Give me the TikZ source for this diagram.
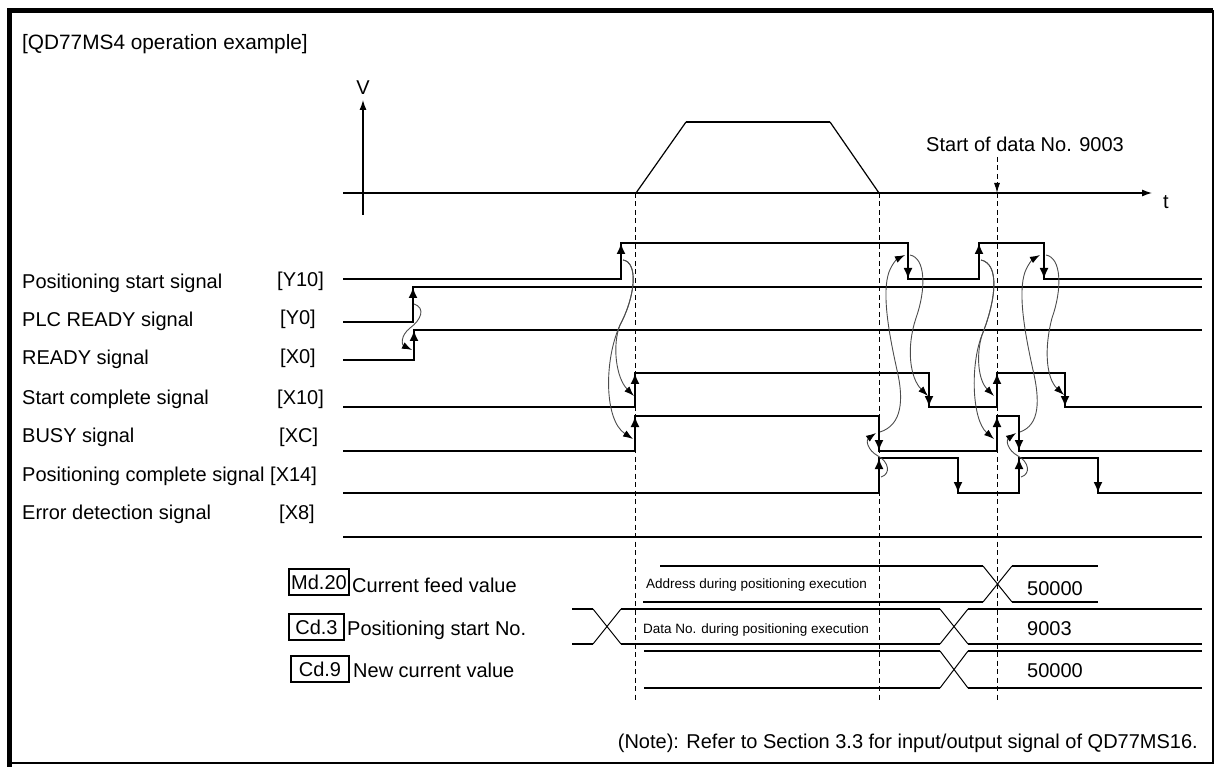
\documentclass[tikz,border=0pt]{standalone}
\usepackage{fontspec}
\setmainfont{Liberation Sans}
\usetikzlibrary{arrows.meta}
\begin{document}
\begin{tikzpicture}[x=1pt,y=-1pt,
  sig/.style={line width=2.8pt, line join=miter},
  edgearr/.style={line width=2.8pt, -{Latex[length=11pt,width=9pt]}},
  cause/.style={line width=0.9pt, black!70, -{Latex[length=10pt,width=7pt,color=black]}},
  guide/.style={line width=1pt, dash pattern=on 5pt off 3.5pt},
  axis/.style={line width=1.2pt, -{Latex[length=10pt,width=7pt]}},
  bus/.style={line width=2.3pt},
  busx/.style={line width=1pt},
  lbl/.style={font=\fontsize{20}{24}\selectfont, inner sep=0pt, anchor=base west},
  small/.style={font=\fontsize{13.5}{16}\selectfont, inner sep=0pt, anchor=west},
  regbox/.style={draw, line width=1.3pt, font=\fontsize{20}{24}\selectfont, inner sep=0pt, minimum height=26pt}
]
\useasboundingbox (0,0) rectangle (1216,767);
% frame
\draw[line width=4.5pt] (9.5,767) -- (9.5,10.5) -- (1213,10.5);
\draw[line width=2pt] (1213,10.5) -- (1213,763) -- (9.5,763);

\node[lbl, font=\fontsize{20.8}{25}\selectfont] (title) at (22,50) {[QD77MS4 operation example]};

% speed axes
\draw[axis] (363,215) -- (363,100);
\node[font=\fontsize{20}{24}\selectfont, inner sep=0pt] (Vlab) at (363,88) {V};
\draw[axis] (343,193) -- (1152,193);
\node[font=\fontsize{20}{24}\selectfont, inner sep=0pt] (tlab) at (1166,202) {t};
\draw[line width=1.2pt] (636,193) -- (686,122);
\draw[line width=2.4pt] (686,122) -- (830,122);
\draw[line width=1.2pt] (830,122) -- (879,193);

% start marker
\node[font=\fontsize{20}{24}\selectfont, inner sep=0pt] (startlab) at (1025,144) {Start of data No. 9003};
\draw[guide,-{Latex[length=10pt,width=6pt]}] (997,157) -- (997,193);

% guide lines
\draw[guide] (635,193) -- (635,700);
\draw[guide] (879,193) -- (879,700);
\draw[guide] (997,193) -- (997,700);

% signal labels
\node[lbl] (lY10) at (22,289) {Positioning start signal};
\node[lbl] (lY0)  at (22,327) {PLC READY signal};
\node[lbl] (lX0)  at (22,365) {READY signal};
\node[lbl] (lX10) at (22,404) {Start complete signal};
\node[lbl] (lXC)  at (22,442) {BUSY signal};
\node[lbl] (lX14) at (22,481) {Positioning complete signal};
\node[lbl] (lX8)  at (22,519) {Error detection signal};
\node[lbl] (bY10) at (277,287) {[Y10]};
\node[lbl] (bY0)  at (280,325) {[Y0]};
\node[lbl] (bX0)  at (280,363) {[X0]};
\node[lbl] (bX10) at (277,404) {[X10]};
\node[lbl] (bXC)  at (279,442) {[XC]};
\node[lbl] (bX14) at (270,481) {[X14]};
\node[lbl] (bX8)  at (279,519) {[X8]};

% waveforms
\draw[sig] (343,279) -- (621,279) -- (621,243) -- (908,243) -- (908,279) -- (979,279) -- (979,243) -- (1044,243) -- (1044,279) -- (1202,279);
\draw[sig] (343,322) -- (413,322) -- (413,287) -- (1202,287);
\draw[sig] (343,360) -- (414,360) -- (414,330) -- (1202,330);
\draw[sig] (343,407) -- (635,407) -- (635,373) -- (929,373) -- (929,407) -- (997,407) -- (997,373) -- (1065,373) -- (1065,407) -- (1202,407);
\draw[sig] (343,451) -- (635,451) -- (635,416) -- (879,416) -- (879,451) -- (997,451) -- (997,416) -- (1019,416) -- (1019,451) -- (1202,451);
\draw[sig] (343,493) -- (879,493) -- (879,458) -- (958,458) -- (958,493) -- (1019,493) -- (1019,458) -- (1098,458) -- (1098,493) -- (1202,493);
\draw[sig] (343,537) -- (1202,537);

% edge arrows (rising)
\draw[edgearr] (413,322) -- (413,287);
\draw[edgearr] (414,360) -- (414,330);
\draw[edgearr] (621,279) -- (621,243);
\draw[edgearr] (635,407) -- (635,373);
\draw[edgearr] (635,451) -- (635,416);
\draw[edgearr] (879,493) -- (879,458);
\draw[edgearr] (979,279) -- (979,243);
\draw[edgearr] (997,407) -- (997,373);
\draw[edgearr] (997,451) -- (997,416);
\draw[edgearr] (1019,493) -- (1019,458);
% edge arrows (falling)
\draw[edgearr] (908,243) -- (908,279);
\draw[edgearr] (929,373) -- (929,407);
\draw[edgearr] (879,416) -- (879,451);
\draw[edgearr] (958,458) -- (958,493);
\draw[edgearr] (1044,243) -- (1044,279);
\draw[edgearr] (1065,373) -- (1065,407);
\draw[edgearr] (1019,416) -- (1019,451);
\draw[edgearr] (1098,458) -- (1098,493);

% cause-effect curves
\draw[cause] (414,304) .. controls (426,308) and (421,320) .. (410,328) .. controls (400,336) and (402,345) .. (412,350);
\draw[cause] (623,260) .. controls (638,262) and (636,295) .. (620,325) .. controls (612,345) and (616,378) .. (634,396);
\draw[cause] (623,260) .. controls (638,262) and (636,295) .. (620,325) .. controls (604,360) and (604,420) .. (633,439);
\draw[cause] (881,477) .. controls (891,474) and (889,462) .. (878,456) .. controls (867,450) and (866,440) .. (876,433);
\draw[cause] (880,432) .. controls (902,425) and (904,400) .. (897,370) .. controls (888,330) and (882,292) .. (889,272) .. controls (892,264) and (897,259) .. (905,255);
\draw[cause] (910,255) .. controls (926,258) and (926,290) .. (916,318) .. controls (906,348) and (910,378) .. (928,396);
\draw[cause] (981,260) .. controls (1000,264) and (996,300) .. (982,335) .. controls (976,355) and (978,380) .. (994,396);
\draw[cause] (981,260) .. controls (1000,264) and (996,300) .. (982,335) .. controls (970,365) and (972,420) .. (994,439);
\draw[cause] (1021,477) .. controls (1031,474) and (1029,462) .. (1018,456) .. controls (1007,450) and (1006,440) .. (1016,433);
\draw[cause] (1020,432) .. controls (1040,425) and (1040,400) .. (1033,370) .. controls (1024,330) and (1018,292) .. (1025,272) .. controls (1028,264) and (1033,259) .. (1040,255);
\draw[cause] (1046,255) .. controls (1062,258) and (1062,290) .. (1052,318) .. controls (1044,348) and (1046,378) .. (1064,395);

% register labels
\node[regbox, minimum width=60pt] (md20) at (319,582) {Md.20};
\node[lbl] (md20t) at (352,592) {Current feed value};
\node[regbox, minimum width=55pt] (cd3) at (316.5,627) {Cd.3};
\node[lbl] (cd3t) at (347,635) {Positioning start No.};
\node[regbox, minimum width=58pt] (cd9) at (320,669) {Cd.9};
\node[lbl] (cd9t) at (353,677) {New current value};

% bus rows
\draw[bus] (660,566) -- (983,566);
\draw[bus] (643,602) -- (983,602);
\draw[busx] (983,566) -- (1012,602);
\draw[busx] (983,602) -- (1012,566);
\draw[bus] (1012,566) -- (1098,566);
\draw[bus] (1012,602) -- (1098,602);
\node[small] (addr) at (646,585) {Address during positioning execution};
\node[lbl] (v1) at (1027,595) {50000};

\draw[bus] (572,609) -- (593,609);
\draw[bus] (572,644) -- (593,644);
\draw[busx] (593,609) -- (621,644);
\draw[busx] (593,644) -- (621,609);
\draw[bus] (621,609) -- (940,609);
\draw[bus] (621,644) -- (940,644);
\draw[busx] (940,609) -- (968,644);
\draw[busx] (940,644) -- (968,609);
\draw[bus] (968,609) -- (1202,609);
\draw[bus] (968,644) -- (1202,644);
\node[small] (dno) at (643,630) {Data No. during positioning execution};
\node[lbl] (v2) at (1027,635) {9003};

\draw[bus] (644,651) -- (940,651);
\draw[bus] (644,688) -- (940,688);
\draw[busx] (940,651) -- (968,688);
\draw[busx] (940,688) -- (968,651);
\draw[bus] (968,651) -- (1202,651);
\draw[bus] (968,688) -- (1202,688);
\node[lbl] (v3) at (1027,677) {50000};

\node[font=\fontsize{20}{24}\selectfont, inner sep=0pt, anchor=base east] (note) at (1198,748) {(Note): Refer to Section 3.3 for input/output signal of QD77MS16.};
\end{tikzpicture}
\end{document}
